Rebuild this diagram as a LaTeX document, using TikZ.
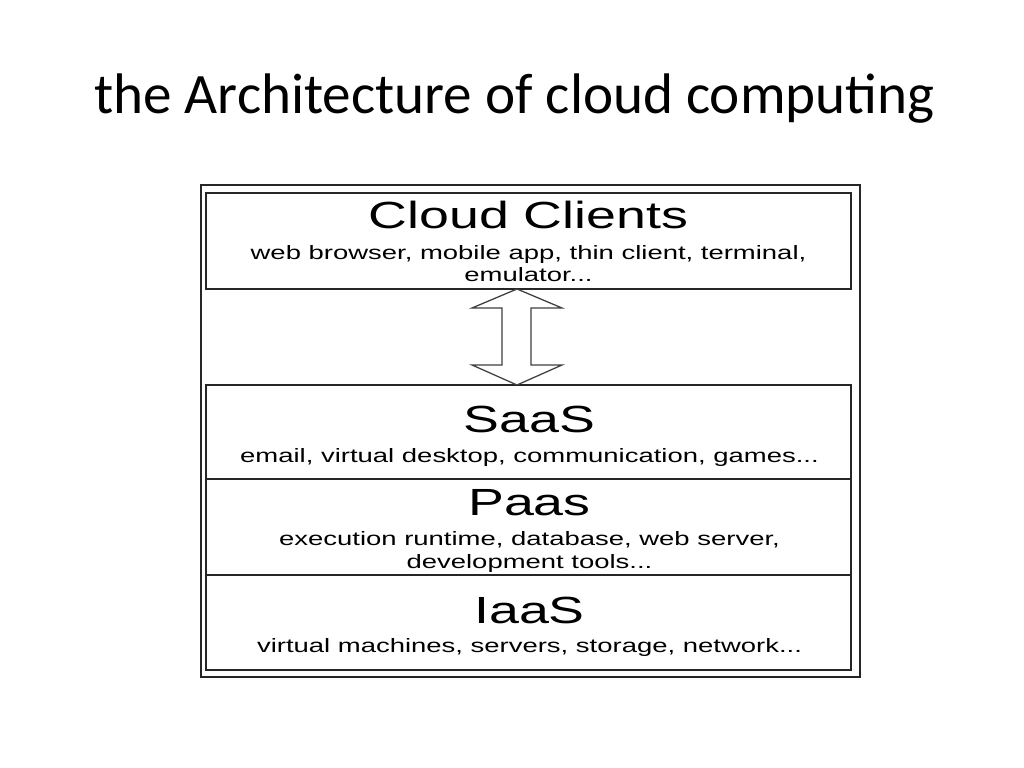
\documentclass[tikz,border=0pt]{standalone}
\usepackage{fontspec}
\setmainfont{Carlito}
\newfontfamily\diag[FakeStretch=1.42]{Liberation Sans}
\usetikzlibrary{calc}
\tikzset{
  px/.style={x=0.703125pt,y=-0.703125pt},
  layer/.style={draw=black!85,line width=1.4pt,minimum width=453.5pt,inner sep=0pt,outer sep=0pt,fill=white},
  frame/.style={draw=black!85,line width=1.4pt},
  big/.style={font=\diag\fontsize{26.6}{30}\selectfont,anchor=base,inner sep=0pt},
  small/.style={font=\diag\fontsize{13.6}{15.5}\selectfont,anchor=base,inner sep=0pt},
  dblarrow/.style={draw=black!75,line width=0.9pt,fill=white,line join=miter},
  titlestyle/.style={font=\fontsize{40.2}{46}\selectfont,anchor=base,inner sep=0pt}
}
\begin{document}
\begin{tikzpicture}[px]
\useasboundingbox[fill=white] (0,0) rectangle (1024,768);
\node[titlestyle] (title) at (514.5,113.5) {the Architecture of cloud computing};
\node[frame,minimum width=463.4pt,minimum height=346pt,inner sep=0pt,outer sep=0pt] (outer) at (530.5,431) {};
\node[layer,minimum height=67.5pt] (clients) at (528.5,241) {};
\node[layer,minimum height=66.1pt] (saas) at (528.5,432) {};
\node[layer,minimum height=67.5pt] (paas) at (528.5,527) {};
\node[layer,minimum height=66.8pt] (iaas) at (528.5,622.5) {};
% labels
\node[big] (tclients) at (528.5,229) {Cloud Clients};
\node[small] (dclients1) at (528.5,260) {web browser, mobile app, thin client, terminal,};
\node[small] (dclients2) at (528.5,282) {emulator...};
\node[big] (tsaas) at (529.5,432) {SaaS};
\node[small] (dsaas) at (529.5,462) {email, virtual desktop, communication, games...};
\node[big] (tpaas) at (529.5,515) {Paas};
\node[small] (dpaas1) at (529.5,545) {execution runtime, database, web server,};
\node[small] (dpaas2) at (529.5,568) {development tools...};
\node[big] (tiaas) at (529.5,623) {IaaS};
\node[small] (diaas) at (529.5,652) {virtual machines, servers, storage, network...};
% double arrow between clients and saas
\draw[dblarrow] ($(clients.south)+(-11.5,0)$) -- ++(45,19) -- ++(-31,0)
  -- ($(saas.north)+(2.5,-20)$) -- ++(31,0) -- ($(saas.north)+(-11.5,0)$)
  -- ++(-45,-20) -- ++(30,0) -- ($(clients.south)+(-26.5,19)$) -- ++(-30,0) -- cycle;
\end{tikzpicture}
\end{document}
